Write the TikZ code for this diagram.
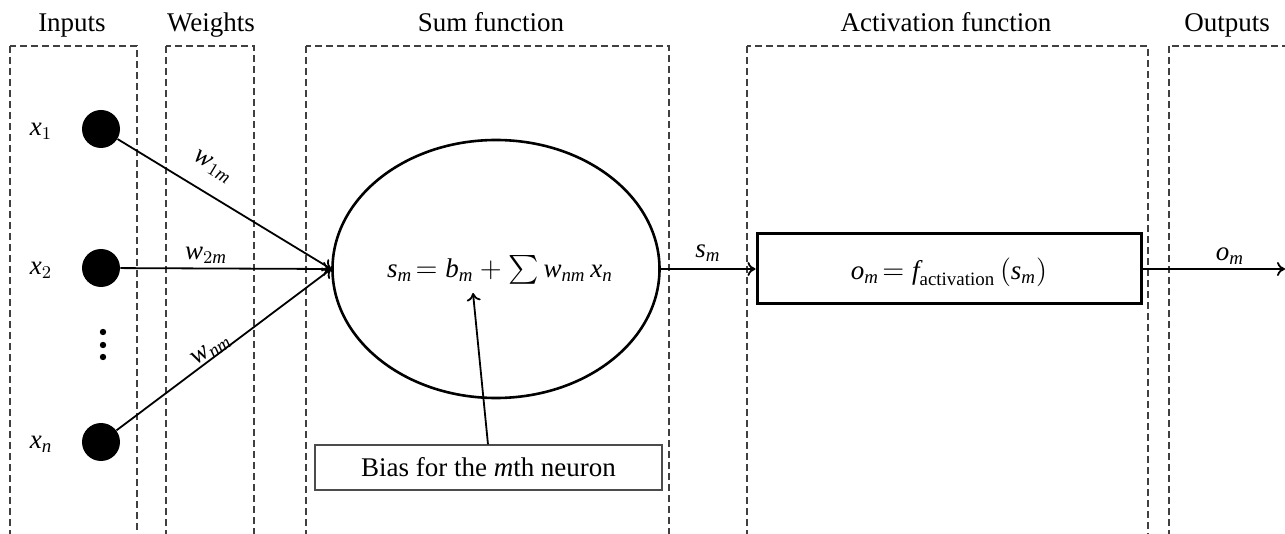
\documentclass[tikz,border=0pt]{standalone}
\usepackage{amsmath}
\usepackage{fontspec}
\setmainfont{Liberation Serif}
\usetikzlibrary{arrows.meta,shapes.geometric}
\newcommand{\iv}[1]{\textit{#1}}
\tikzset{
  region/.style={draw=black!75, line width=0.6pt, dash pattern=on 3.5pt off 2pt},
  heading/.style={anchor=base, font=\fontsize{13.5}{16}\selectfont},
  lbl/.style={font=\fontsize{13.5}{16}\selectfont, inner sep=1pt},
  inp/.style={circle, fill=black, minimum size=19pt, inner sep=0pt},
  dotty/.style={circle, fill=black, minimum size=3.2pt, inner sep=0pt},
  arr/.style={line width=0.9pt, -{To[length=4pt,width=7pt]}},
  conn/.style={line width=0.9pt},
}
\begin{document}
\begin{tikzpicture}[x=0.5pt,y=-0.5pt]
\clip (0,0) rectangle (1285,534);
\fill[white] (0,0) rectangle (1285,534);
% regions
\draw[region] (10,46) rectangle (137,560);
\draw[region] (166,46) rectangle (254,560);
\draw[region] (306,46) rectangle (669,560);
\draw[region] (747,46) rectangle (1148,560);
\draw[region] (1169,46) rectangle (1320,560);
% headings
\node[heading] (hin) at (72,32) {Inputs};
\node[heading] (hw) at (211,32) {Weights};
\node[heading] (hsum) at (491,32) {Sum function};
\node[heading] (hact) at (946,32) {Activation function};
\node[heading] (hout) at (1227,32) {Outputs};
% inputs
\node[inp] (x1) at (101,129) {};
\node[inp] (x2) at (101,268) {};
\node[inp] (xn) at (101,442) {};
\node[dotty] (d1) at (103,332) {};
\node[dotty] (d2) at (103,345) {};
\node[dotty] (d3) at (103,357) {};
\node[lbl] (lx1) at (41,131) {$\iv{x}_{1}$};
\node[lbl] (lx2) at (41,270) {$\iv{x}_{2}$};
\node[lbl] (lxn) at (41,444) {$\iv{x}_{\iv{n}}$};
% sum
\node[ellipse, draw, line width=1.3pt, minimum width=163.5pt, minimum height=129pt, inner sep=0pt] (sum) at (496,269) {};
\node[lbl] (form) at (500,270) {$\iv{s}_{\iv{m}}\!= \iv{b}_{\iv{m}} + \textstyle\sum \iv{w}_{\iv{nm}}\,\iv{x}_{\iv{n}}$};
\coordinate (bm) at (473,293);
\node[draw=black!70, line width=0.6pt, minimum width=173.5pt, minimum height=22.5pt, inner sep=0pt, font=\fontsize{13.5}{16}\selectfont] (bias) at (488.5,467.5) {Bias for the \iv{m}th neuron};
\draw[arr] (bias.north -| 488,0) -- (bm);
% weights
\draw[arr] (x1) -- (sum.west);
\draw[arr] (x2) -- (sum.west);
\draw[arr] (xn) -- (sum.west);
\node[lbl, rotate=-31] (w1) at (213,167) {$\iv{w}_{1\iv{m}}$};
\node[lbl] (w2) at (206,255) {$\iv{w}_{2\iv{m}}$};
\node[lbl, rotate=35] (wn) at (211,350) {$\iv{w}_{\iv{nm}}$};
% activation
\node[draw, line width=1.5pt, minimum width=192pt, minimum height=35pt, inner sep=0pt] (act) at (949,269) {};
\node[lbl] (aform) at (949,272) {$\iv{o}_{\iv{m}}\!=\iv{f}_{\text{activation}}\,(\iv{s}_{\iv{m}})$};
\draw[arr] (sum.east) -- (act.west);
\node[lbl] (lsm) at (708,253) {$\iv{s}_{\iv{m}}$};
\coordinate (outend) at (1285,269);
\draw[arr] (act.east) -- (outend);
\node[lbl] (lom) at (1230,256) {$\iv{o}_{\iv{m}}$};
\end{tikzpicture}
\end{document}
